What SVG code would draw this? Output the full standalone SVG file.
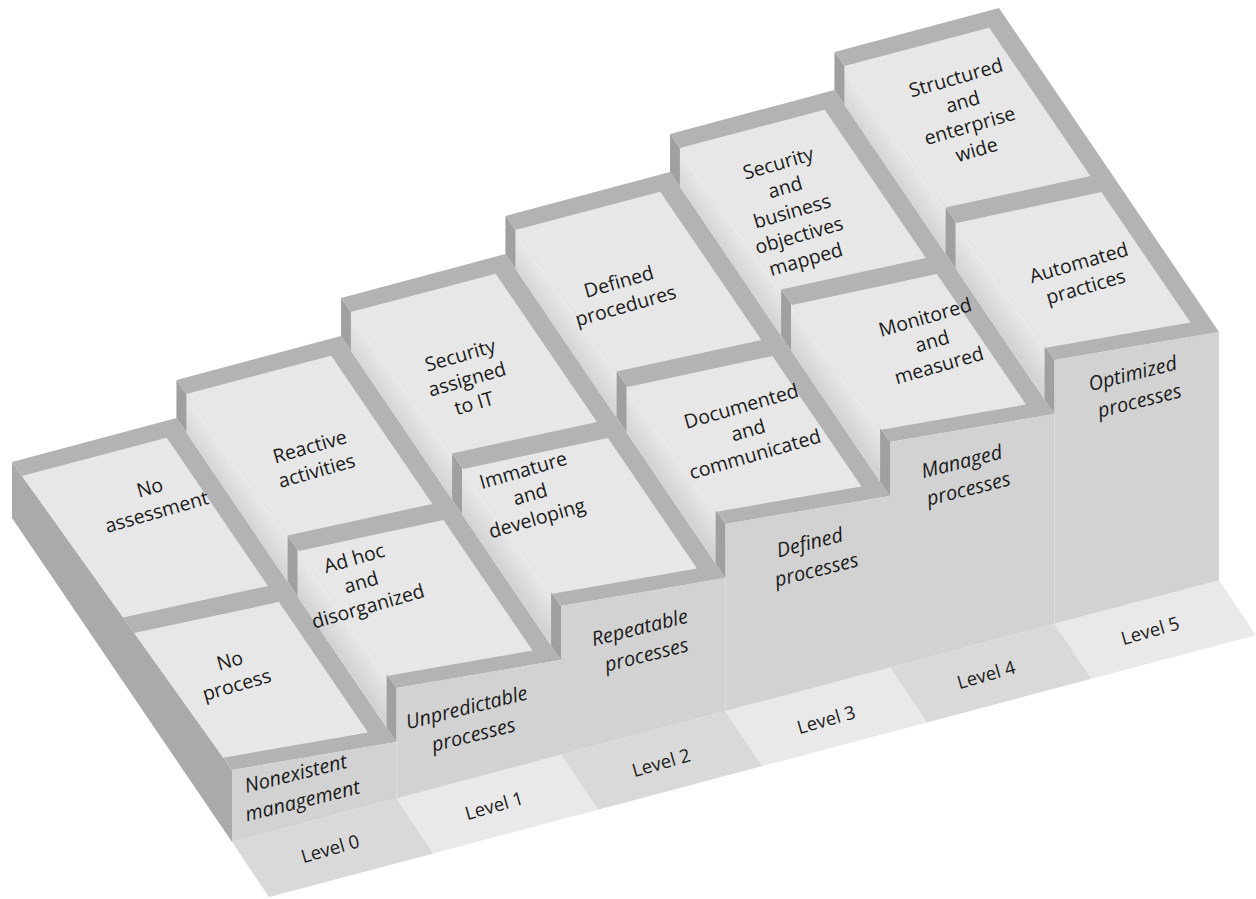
<svg xmlns="http://www.w3.org/2000/svg" xmlns:xlink="http://www.w3.org/1999/xlink" width="1256" height="899" viewBox="0 0 1256 899">
<defs>
<style>
.top{fill:#b3b3b3}
.tile{fill:#e7e7e7}
.dark{fill:#a0a0a0}
.outer{fill:#aaaaaa}
.front{fill:#d2d2d2}
.flA{fill:#d9d9d9}
.flB{fill:#e9e9e9}
.t{font-family:"Open Sans","Noto Sans","DejaVu Sans",sans-serif;font-size:19.5px;fill:#1b1b1b;text-anchor:middle}
.fi{font-style:italic;font-size:20px}
.lv{font-size:18.5px}
</style>
<linearGradient id="rg" gradientUnits="userSpaceOnUse" x1="122" y1="662" x2="144" y2="646.3">
<stop offset="0" stop-color="#d3d3d3"/>
<stop offset="1" stop-color="#eaeaea"/>
</linearGradient>
<g id="colTop">
<polygon class="top" points="12,462 176.5,418 396.5,742 232,770"/>
<polygon class="tile" points="21.9,475.9 166.7,437.8 267.9,585.9 123.1,617.5"/>
<polygon class="tile" points="134.1,632.9 278.9,602 368,732.5 223.2,757.7"/>
</g>
<g id="riser">
<polygon fill="url(#rg)" points="12,462 232,770 232,824 12,500"/>
<polygon class="dark" points="12,462 21.9,475.9 21.9,514.6 12,500"/>
<polygon class="dark" points="123.1,617.5 133,631.4 133,678.2 123.1,663.6"/>
<polygon class="dark" points="222.1,756.1 232,770 232,824 222.1,809.4"/>
</g>
</defs>
<rect width="1256" height="899" fill="#ffffff"/>

<g id="floor">
<polygon class="flA" points="232,842 396.5,798.4 433.5,853.4 269,897"/>
<polygon class="flB" points="396.5,798.4 561,754.7 598,809.7 433.5,853.4"/>
<polygon class="flA" points="561,754.7 725.5,711.1 762.5,766.1 598,809.7"/>
<polygon class="flB" points="725.5,711.1 890,667.4 927,722.4 762.5,766.1"/>
<polygon class="flA" points="890,667.4 1054.5,623.8 1091.5,678.8 927,722.4"/>
<polygon class="flB" points="1054.5,623.8 1219,580.2 1256,635.2 1091.5,678.8"/>
<text class="t lv" transform="translate(332,855) rotate(-16)">Level 0</text>
<text class="t lv" transform="translate(496,812) rotate(-16)">Level 1</text>
<text class="t lv" transform="translate(663,769) rotate(-16)">Level 2</text>
<text class="t lv" transform="translate(828,726) rotate(-16)">Level 3</text>
<text class="t lv" transform="translate(988,681) rotate(-16)">Level 4</text>
<text class="t lv" transform="translate(1152,637) rotate(-16)">Level 5</text>
</g>

<g id="level0">
<polygon class="outer" points="12,462 232,770 232,842 12,518"/>
<use xlink:href="#colTop"/>
<polygon class="front" points="232,770 396.5,742 396.5,798.4 232,842"/>
<text class="t" transform="translate(153,499) rotate(-16)"><tspan x="0" y="-5">No</tspan><tspan x="0" y="20">assessment</tspan></text>
<text class="t" transform="translate(233,672) rotate(-16)"><tspan x="0" y="-5">No</tspan><tspan x="0" y="20">process</tspan></text>
<text class="t fi" transform="translate(299,787) rotate(-14)"><tspan x="0" y="-7">Nonexistent</tspan><tspan x="0" y="21">management</tspan></text>
</g>

<g id="level1">
<g transform="translate(164.5,-82)"><use xlink:href="#riser"/><use xlink:href="#colTop"/></g>
<polygon class="front" points="396.5,688 561,660 561,754.7 396.5,798.4"/>
<text class="t" transform="translate(313,458) rotate(-16)"><tspan x="0" y="-5">Reactive</tspan><tspan x="0" y="20">activities</tspan></text>
<text class="t" transform="translate(361,582) rotate(-16)"><tspan x="0" y="-18">Ad hoc</tspan><tspan x="0" y="7">and</tspan><tspan x="0" y="32">disorganized</tspan></text>
<text class="t fi" transform="translate(470,721) rotate(-14)"><tspan x="0" y="-7">Unpredictable</tspan><tspan x="0" y="21">processes</tspan></text>
</g>

<g id="level2">
<g transform="translate(329,-164)"><use xlink:href="#riser"/><use xlink:href="#colTop"/></g>
<polygon class="front" points="561,606 725.5,578 725.5,711.1 561,754.7"/>
<text class="t" transform="translate(467,379) rotate(-16)"><tspan x="0" y="-18">Security</tspan><tspan x="0" y="7">assigned</tspan><tspan x="0" y="32">to IT</tspan></text>
<text class="t" transform="translate(530,494) rotate(-16)"><tspan x="0" y="-18">Immature</tspan><tspan x="0" y="7">and</tspan><tspan x="0" y="32">developing</tspan></text>
<text class="t fi" transform="translate(643,641) rotate(-14)"><tspan x="0" y="-7">Repeatable</tspan><tspan x="0" y="21">processes</tspan></text>
</g>

<g id="level3">
<g transform="translate(493.5,-246)"><use xlink:href="#riser"/><use xlink:href="#colTop"/></g>
<polygon class="front" points="725.5,524 890,496 890,667.4 725.5,711.1"/>
<text class="t" transform="translate(622,293) rotate(-16)"><tspan x="0" y="-5">Defined</tspan><tspan x="0" y="20">procedures</tspan></text>
<text class="t" transform="translate(748,430) rotate(-16)"><tspan x="0" y="-18">Documented</tspan><tspan x="0" y="7">and</tspan><tspan x="0" y="32">communicated</tspan></text>
<text class="t fi" transform="translate(813,556) rotate(-14)"><tspan x="0" y="-7">Defined</tspan><tspan x="0" y="21">processes</tspan></text>
</g>

<g id="level4">
<g transform="translate(658,-328)"><use xlink:href="#riser"/><use xlink:href="#colTop"/></g>
<polygon class="front" points="890,442 1054.5,414 1054.5,623.8 890,667.4"/>
<text class="t" transform="translate(792,211) rotate(-16)"><tspan x="0" y="-43">Security</tspan><tspan x="0" y="-18">and</tspan><tspan x="0" y="7">business</tspan><tspan x="0" y="32">objectives</tspan><tspan x="0" y="57">mapped</tspan></text>
<text class="t" transform="translate(932,341) rotate(-16)"><tspan x="0" y="-18">Monitored</tspan><tspan x="0" y="7">and</tspan><tspan x="0" y="32">measured</tspan></text>
<text class="t fi" transform="translate(965,475) rotate(-14)"><tspan x="0" y="-7">Managed</tspan><tspan x="0" y="21">processes</tspan></text>
</g>

<g id="level5">
<g transform="translate(822.5,-410)"><use xlink:href="#riser"/><use xlink:href="#colTop"/></g>
<polygon class="front" points="1054.5,360 1219,332 1219,580.2 1054.5,623.8"/>
<text class="t" transform="translate(966,113) rotate(-16)"><tspan x="0" y="-30">Structured</tspan><tspan x="0" y="-5">and</tspan><tspan x="0" y="20">enterprise</tspan><tspan x="0" y="45">wide</tspan></text>
<text class="t" transform="translate(1082,274) rotate(-16)"><tspan x="0" y="-5">Automated</tspan><tspan x="0" y="20">practices</tspan></text>
<text class="t fi" transform="translate(1136,387) rotate(-14)"><tspan x="0" y="-7">Optimized</tspan><tspan x="0" y="21">processes</tspan></text>
</g>

<g id="connectors"></g>
</svg>
